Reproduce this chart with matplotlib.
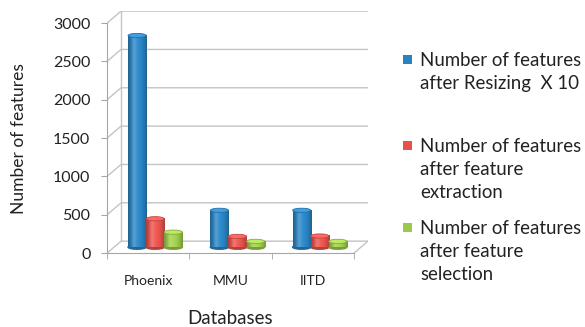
import numpy as np
import matplotlib.pyplot as plt
from matplotlib.colors import to_rgb
from matplotlib.patches import Ellipse, Rectangle

plt.rcParams['font.family'] = ['Lato', 'DejaVu Sans']

databases = ['Phoenix', 'MMU', 'IITD']
resized_x10 = [2760, 480, 480]
extracted = [370, 140, 145]
selected = [195, 75, 75]
series = [resized_x10, extracted, selected]
labels = ['Number of features\nafter Resizing  X 10',
          'Number of features\nafter feature\nextraction',
          'Number of features\nafter feature\nselection']
colors = ['#2a83c0', '#e4524c', '#9cc84b']
yticks = [0, 500, 1000, 1500, 2000, 2500, 3000]

W, H = 585, 327
fig = plt.figure(figsize=(W / 100, H / 100), dpi=100)
ax = fig.add_axes([0.183, 0.226, 0.446, 0.741])

# fake 3d: back wall shifted right/up by the depth
depth_x, depth_y = 0.17, 156
ncat = len(databases)
grid_c = '#c4c4c4'
for v in yticks:
    ax.plot([0, depth_x, ncat + depth_x], [v, v + depth_y, v + depth_y],
            color=grid_c, lw=1, zorder=1)
ax.plot([depth_x, depth_x], [depth_y, yticks[-1] + depth_y], color=grid_c, lw=1, zorder=1)
ax.plot([ncat, ncat + depth_x], [0, depth_y], color=grid_c, lw=1, zorder=1)


def cylinder(x0, w, bottom, height, color, eh=55):
    base = np.array(to_rgb(color))
    t = np.linspace(0, 1, 60)
    shade = 0.75 + 0.32 * np.sin(np.pi * t)
    img = np.clip(base[None, :] * shade[:, None], 0, 1)
    glow = 0.2 * np.exp(-((t - 0.32) / 0.13) ** 2)
    img = img * (1 - glow[:, None]) + glow[:, None]
    ax.add_patch(Ellipse((x0 + w / 2, bottom), w, eh, color=base * 0.78, zorder=2.9))
    ax.imshow(img[None, :, :], extent=(x0, x0 + w, bottom, bottom + height),
              aspect='auto', interpolation='bilinear', zorder=3)
    top = np.clip(base * 1.1 + 0.06, 0, 1)
    ax.add_patch(Ellipse((x0 + w / 2, bottom + height), w, eh, facecolor=top,
                         edgecolor=base * 0.85, lw=0.6, zorder=3.1))


bw = 0.22
for i in range(ncat):
    cx = i + 0.5 + depth_x / 2
    for j, vals in enumerate(series):
        x0 = cx + (j - 1.5) * bw
        cylinder(x0, bw, depth_y / 2, vals[i], colors[j])

ax.set_xlim(0, ncat + depth_x)
ax.set_ylim(0, yticks[-1] + depth_y + 4)
ax.set_aspect('auto')

for s in ['top', 'right']:
    ax.spines[s].set_visible(False)
for s in ['left', 'bottom']:
    ax.spines[s].set_color('#a6a6a6')
ax.spines['left'].set_bounds(0, yticks[-1])
ax.spines['bottom'].set_bounds(0, ncat)

ax.set_yticks(yticks)
ax.tick_params(axis='y', length=4, color='#a6a6a6', pad=8, labelsize=11.5, labelcolor='#222222')
ax.set_xticks([i + 0.5 for i in range(ncat)])
ax.set_xticklabels(databases)
ax.set_xticks(range(ncat + 1), minor=True)
ax.tick_params(axis='x', which='major', length=0, pad=16, labelsize=10, labelcolor='#222222')
ax.tick_params(axis='x', which='minor', length=4, color='#a6a6a6')

fig.text(19 / W, 1 - 139 / H, 'Number of features', rotation=90,
         ha='center', va='center', fontsize=12.5, color='#222222')
fig.text(230 / W, 1 - 318 / H, 'Databases', ha='center', va='center',
         fontsize=13.5, color='#222222')

# legend drawn by hand, one text per line (baselines in pixels from top)
baselines = [66, 152, 234]
line_h = 23
for lab, col, by in zip(labels, colors, baselines):
    fig.patches.append(Rectangle((403 / W, 1 - (by - 2) / H), 9 / W, 9 / H,
                                 transform=fig.transFigure, facecolor=col,
                                 edgecolor='none'))
    for k, line in enumerate(lab.split('\n')):
        fig.text(420 / W, 1 - (by + k * line_h) / H, line, ha='left',
                 va='baseline', fontsize=13.4, color='#222222')

fig.savefig('out.png', dpi=100)
